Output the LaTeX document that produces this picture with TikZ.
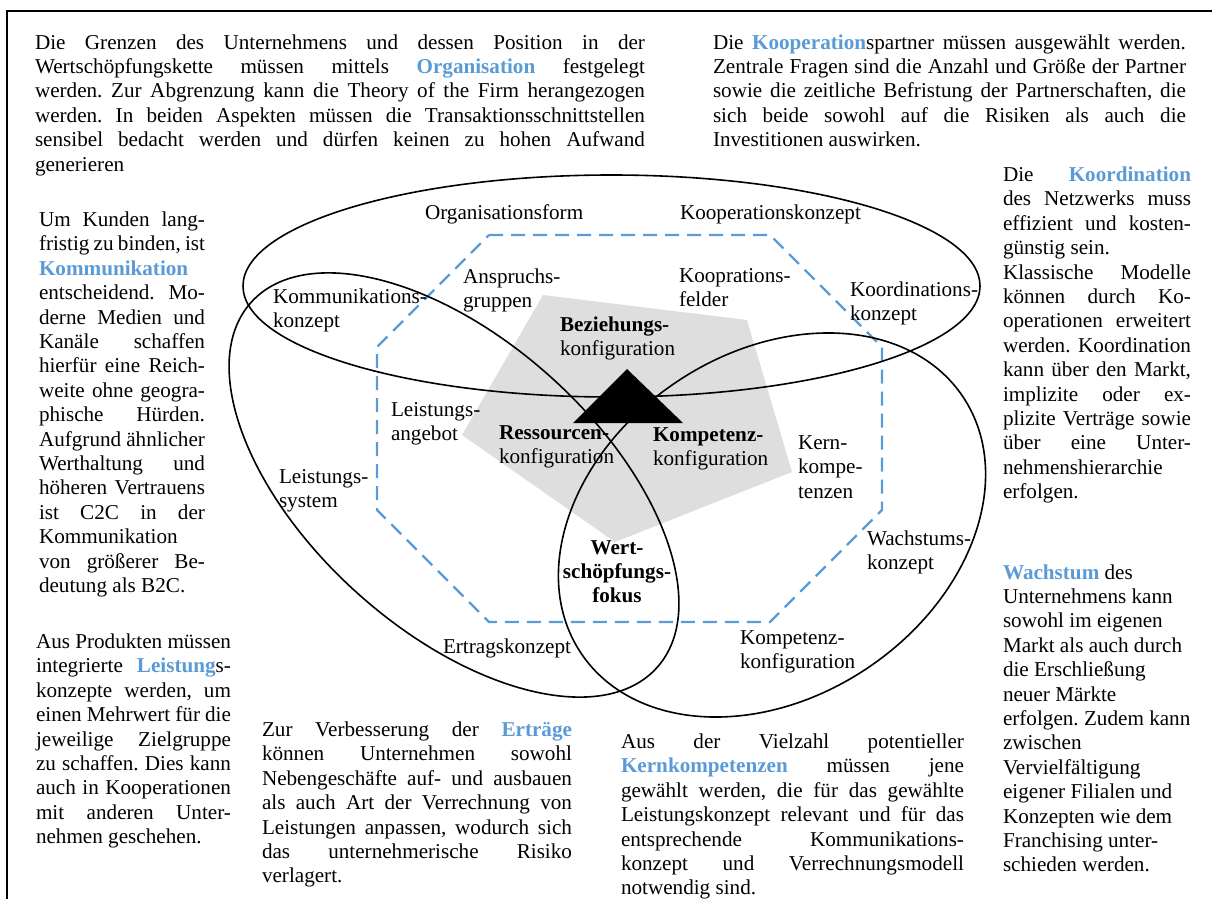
\documentclass[tikz,border=0pt]{standalone}
\usepackage{fontspec}
\setmainfont{Liberation Serif}
\frenchspacing
\definecolor{myblue}{RGB}{91,155,213}
\definecolor{mygray}{RGB}{222,222,222}
\newdimen\tw
\newcommand\fs{\fontsize{21.15}{24.4}\selectfont\frenchspacing}
\newcommand\jus[1]{\hbox to\tw{\strut#1}}
\newcommand\rag[1]{\hbox{\strut#1}}
\newcommand\ctr[1]{\hbox to\tw{\hfil\strut#1\hfil}}
\newcommand\bl[1]{\textbf{\color{myblue}#1}}
\tikzset{
  txt/.style={inner sep=0pt, outer sep=0pt, anchor=north west, font=\fs},
  ctxt/.style={txt, anchor=north},
  framel/.style={line width=2.3pt},
  ell/.style={draw=black, line width=1.6pt},
  oct/.style={draw=myblue, line width=2.4pt, dash pattern=on 14pt off 8pt},
  pent/.style={fill=mygray},
  tri/.style={fill=black}
}
\begin{document}
\begin{tikzpicture}[x=1pt,y=-1pt]
\useasboundingbox (0,0) rectangle (1212,899);
% frame
\draw[framel] (7,899) -- (7,11) -- (1212,11);
% gray pentagon
\fill[pent] (543,295) -- (747,320) -- (792,472) -- (615,542) -- (462,435) -- cycle;
% dashed octagon
\draw[oct] (489,235) -- (770,235) -- (882,347) -- (882,510) -- (770,622) -- (489,622) -- (377,510) -- (377,347) -- cycle;
% ellipses
\draw[ell] (611.5,286) ellipse [x radius=368.5pt, y radius=111pt];
\draw[ell, rotate around={-42:(454,485)}] (454,485) ellipse [x radius=273pt, y radius=145pt];
\draw[ell, rotate around={34:(772,525)}] (772,525) ellipse [x radius=230pt, y radius=172pt];
% triangle
\fill[tri] (627,369) -- (573,423) -- (683,423) -- cycle;

% diagram labels
\node[txt] (orgform) at (425,202.4) {\vbox{\rag{Organisationsform}}};
\node[txt] (koopkonz) at (680,202.4) {\vbox{\rag{Kooperationskonzept}}};
\node[txt] (anspruch) at (463,266.4) {\vbox{\rag{Anspruchs-}\rag{gruppen}}};
\node[txt] (kooprfeld) at (679,265.4) {\vbox{\rag{Kooprations-}\rag{felder}}};
\node[txt] (kommkonz) at (273,286.4) {\vbox{\rag{Kommunikations-}\rag{konzept}}};
\node[txt] (koordkonz) at (850,279.4) {\vbox{\rag{Koordinations-}\rag{konzept}}};
\node[txt] (bezieh) at (560,314.4) {\vbox{\rag{\textbf{Beziehungs-}}\rag{konfiguration}}};
\node[txt] (leistang) at (391,399.4) {\vbox{\rag{Leistungs-}\rag{angebot}}};
\node[txt] (ressourc) at (499,422.4) {\vbox{\rag{\textbf{Ressourcen-}}\rag{konfiguration}}};
\node[txt] (kompetenz) at (653,424.4) {\vbox{\rag{\textbf{Kompetenz-}}\rag{konfiguration}}};
\node[txt] (kern) at (798,432.4) {\vbox{\rag{Kern-}\rag{kompe-}\rag{tenzen}}};
\node[txt] (leistsys) at (279,466.4) {\vbox{\rag{Leistungs-}\rag{system}}};
\node[ctxt] (wert) at (617,537) {\vbox{\tw=150pt\ctr{\textbf{Wert-}}\ctr{\textbf{schöpfungs-}}\ctr{\textbf{fokus}}}};
\node[txt] (ertrag) at (443,636.4) {\vbox{\rag{Ertragskonzept}}};
\node[txt] (wachstum) at (867,528) {\vbox{\rag{Wachstums-}\rag{konzept}}};
\node[txt] (kompkonf) at (740,627.4) {\vbox{\rag{Kompetenz-}\rag{konfiguration}}};

% text blocks
\node[txt] (tl) at (35,32) {\vbox{\tw=610pt
\jus{Die Grenzen des Unternehmens und dessen Position in der}
\jus{Wertschöpfungskette müssen mittels \bl{Organisation} festgelegt}
\jus{werden. Zur Abgrenzung kann die Theory of the Firm herangezogen}
\jus{werden. In beiden Aspekten müssen die Transaktionsschnittstellen}
\jus{sensibel bedacht werden und dürfen keinen zu hohen Aufwand}
\rag{generieren}}};
\node[txt] (tr) at (713,32) {\vbox{\tw=473pt
\jus{Die \bl{Kooperation}spartner müssen ausgewählt werden.}
\jus{Zentrale Fragen sind die Anzahl und Größe der Partner}
\jus{sowie die zeitliche Befristung der Partnerschaften, die}
\jus{sich beide sowohl auf die Risiken als auch die}
\rag{Investitionen auswirken.}}};
\node[txt] (lc) at (39,209.4) {\vbox{\tw=166pt
\jus{Um Kunden lang-}
\jus{fristig zu binden, ist}
\rag{\bl{Kommunikation}}
\jus{entscheidend. Mo-}
\jus{derne Medien und}
\jus{Kanäle schaffen}
\jus{hierfür eine Reich-}
\jus{weite ohne geogra-}
\jus{phische Hürden.}
\jus{Aufgrund ähnlicher}
\jus{Werthaltung und}
\jus{höheren Vertrauens}
\jus{ist C2C in der}
\rag{Kommunikation}
\jus{von größerer Be-}
\rag{deutung als B2C.}}};
\node[txt] (rc) at (1003,164.4) {\vbox{\tw=188pt
\jus{Die \bl{Koordination}}
\jus{des Netzwerks muss}
\jus{effizient und kosten-}
\rag{günstig sein.}
\jus{Klassische Modelle}
\jus{können durch Ko-}
\jus{operationen erweitert}
\jus{werden. Koordination}
\jus{kann über den Markt,}
\jus{implizite oder ex-}
\jus{plizite Verträge sowie}
\jus{über eine Unter-}
\rag{nehmenshierarchie}
\rag{erfolgen.}}};
\node[txt] (bl) at (36,631.4) {\vbox{\tw=195pt
\jus{Aus Produkten müssen}
\jus{integrierte \bl{Leistung}s-}
\jus{konzepte werden, um}
\jus{einen Mehrwert für die}
\jus{jeweilige Zielgruppe}
\jus{zu schaffen. Dies kann}
\jus{auch in Kooperationen}
\jus{mit anderen Unter-}
\rag{nehmen geschehen.}}};
\node[txt] (bm) at (262,719.4) {\vbox{\tw=310pt
\jus{Zur Verbesserung der \bl{Erträge}}
\jus{können Unternehmen sowohl}
\jus{Nebengeschäfte auf- und ausbauen}
\jus{als auch Art der Verrechnung von}
\jus{Leistungen anpassen, wodurch sich}
\jus{das unternehmerische Risiko}
\rag{verlagert.}}};
\node[txt] (br) at (621,731.4) {\vbox{\tw=343pt
\jus{Aus der Vielzahl potentieller}
\jus{\bl{Kernkompetenzen} müssen jene}
\jus{gewählt werden, die für das gewählte}
\jus{Leistungskonzept relevant und für das}
\jus{entsprechende Kommunikations-}
\jus{konzept und Verrechnungsmodell}
\rag{notwendig sind.}}};
\node[txt] (rb) at (1003,562) {\vbox{
\rag{\bl{Wachstum} des}
\rag{Unternehmens kann}
\rag{sowohl im eigenen}
\rag{Markt als auch durch}
\rag{die Erschließung}
\rag{neuer Märkte}
\rag{erfolgen. Zudem kann}
\rag{zwischen}
\rag{Vervielfältigung}
\rag{eigener Filialen und}
\rag{Konzepten wie dem}
\rag{Franchising unter-}
\rag{schieden werden.}}};
\end{tikzpicture}
\end{document}
